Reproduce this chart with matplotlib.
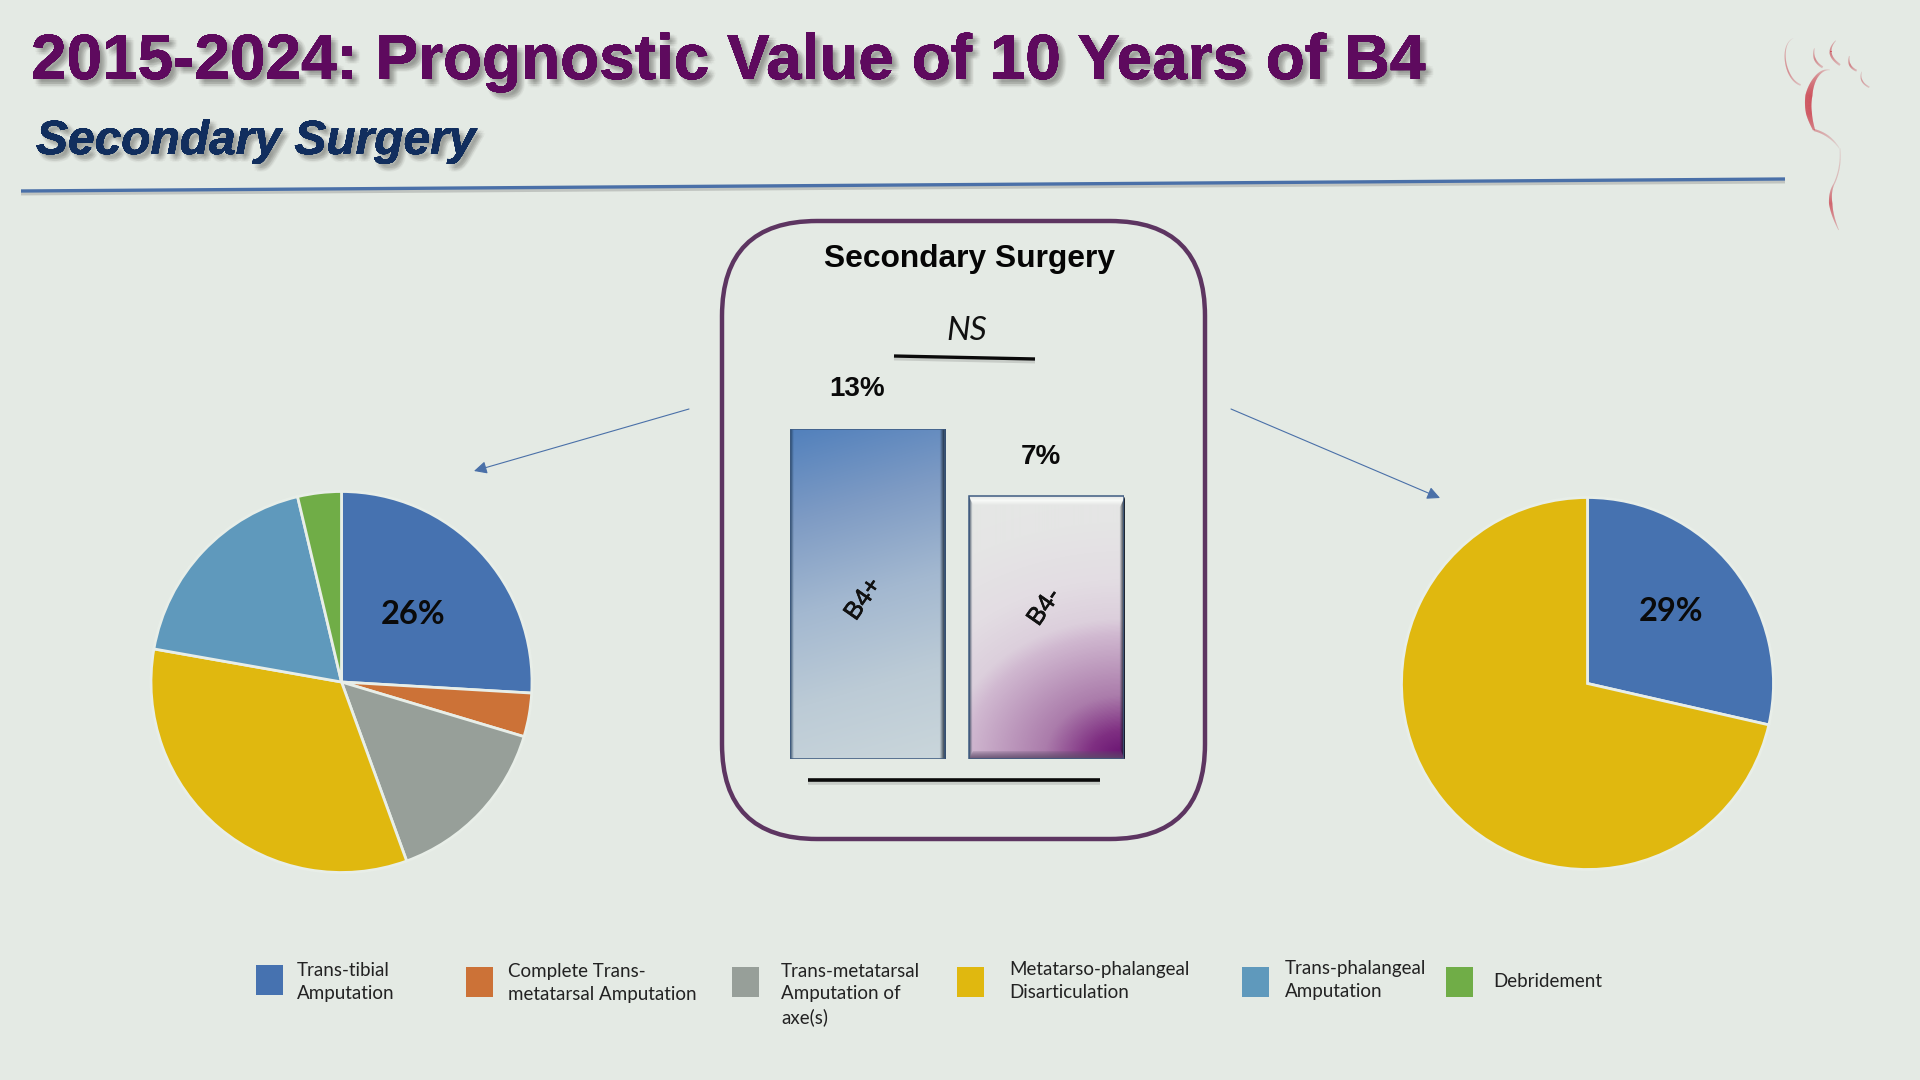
import numpy as np
import matplotlib
matplotlib.use("Agg")
import matplotlib.pyplot as plt
import matplotlib.patheffects as pe
from matplotlib.colors import LinearSegmentedColormap, to_rgb
from matplotlib.patches import FancyBboxPatch, Rectangle, FancyArrowPatch
from matplotlib.collections import LineCollection

# ---------- data ----------
title_text = "2015-2024: Prognostic Value of 10 Years of B4"
subtitle_text = "Secondary Surgery"
box_title = "Secondary Surgery"
ns_text = "NS"
categories = ["Trans-tibial\nAmputation",
              "Complete Trans-\nmetatarsal Amputation",
              "Trans-metatarsal\nAmputation of\naxe(s)",
              "Metatarso-phalangeal\nDisarticulation",
              "Trans-phalangeal\nAmputation",
              "Debridement"]
cat_colors = ["#4672B0", "#CC7237", "#979F99", "#E0B80F", "#5F99BC", "#70AD47"]
left_counts = [7, 1, 4, 9, 5, 1]
right_counts = [2, 0, 0, 5, 0, 0]
left_label = "26%"
right_label = "29%"
bar_names = ["B4+", "B4-"]
bar_values = [13, 7]
bar_value_labels = ["13%", "7%"]
bar_axis_floor = -16.5   # the reference bars stand on a truncated, non-zero-based scale

BG = "#E4EAE4"
W, H = 1920, 1080
fig = plt.figure(figsize=(19.2, 10.8), dpi=100, facecolor=BG)

def ax_px(x0, y0, x1, y1, **kw):
    return fig.add_axes([x0 / W, 1 - y1 / H, (x1 - x0) / W, (y1 - y0) / H], **kw)

# overlay in pixel coordinates
ov = fig.add_axes([0, 0, 1, 1], zorder=3)
ov.set_xlim(0, W); ov.set_ylim(H, 0); ov.axis("off"); ov.patch.set_alpha(0)

def shadow(dist=4.0, spread=3.5, col="#3A3A36", alpha=0.036):
    eff = []
    for rad, n in [(spread, 8), (spread * 0.6, 6), (0, 1)]:
        for a in np.linspace(0, 2 * np.pi, n, endpoint=False):
            ox = (dist + rad * np.cos(a)) * 0.72
            oy = -(dist + rad * np.sin(a)) * 0.72
            eff.append(pe.withSimplePatchShadow(offset=(ox, oy), shadow_rgbFace=col, alpha=alpha))
    eff.append(pe.Normal())
    return eff

# ---------- header ----------
ov.text(31, 79, title_text, fontsize=46, fontweight="bold", family="Liberation Sans",
        color="#5E0A5E", ha="left", va="baseline", path_effects=shadow(5))
ov.text(36, 154, subtitle_text, fontsize=34.5, fontweight="bold", style="italic",
        family="Liberation Sans", color="#112E5E", ha="left", va="baseline", path_effects=shadow(4.5))
ov.plot([21, 1785], [191, 179], color="#4A70A8", lw=2.4, solid_capstyle="butt",
        path_effects=[pe.SimpleLineShadow(offset=(0, -2), shadow_color="#555555", alpha=0.25), pe.Normal()])

# ---------- logo ----------
def taper(points, widths, alphas, color="#C92D3C", n=120):
    pts = np.array(points, float)
    t = np.linspace(0, 1, len(pts))
    tt = np.linspace(0, 1, n)
    deg = min(len(pts) - 1, 4)
    x = np.polyval(np.polyfit(t, pts[:, 0], deg), tt)
    y = np.polyval(np.polyfit(t, pts[:, 1], deg), tt)
    x = 1740 + x / 3; y = 20 + y / 3
    w = np.interp(tt, np.linspace(0, 1, len(widths)), widths)
    a = np.interp(tt, np.linspace(0, 1, len(alphas)), alphas)
    segs = [[(x[i], y[i]), (x[i + 1], y[i + 1])] for i in range(n - 1)]
    rgb = to_rgb(color)
    ov.add_collection(LineCollection(segs, linewidths=w[:-1], colors=[(*rgb, v) for v in a[:-1]],
                                     capstyle="butt"))

taper([(270, 150), (228, 172), (207, 225), (207, 280), (222, 330)], [0.4, 2.2, 5, 4.2, 1.5], [0.15, 0.6, 1, 1, 0.65])
taper([(222, 330), (265, 350), (298, 385)], [1.5, 1.4, 0.6], [0.5, 0.28, 0.08])
taper([(300, 385), (298, 440), (283, 490)], [0.7, 0.8, 0.8], [0.1, 0.22, 0.3])
taper([(283, 490), (272, 550), (296, 630)], [0.7, 2.4, 0.4], [0.3, 0.95, 0.25])
taper([(160, 55), (136, 95), (145, 155), (182, 195)], [0.3, 0.7, 1.1, 1.2], [0.06, 0.4, 0.55, 0.2])
taper([(223, 85), (225, 118), (248, 142)], [0.4, 1.3, 1.5], [0.3, 0.65, 0.25])
taper([(287, 62), (272, 100), (300, 135)], [0.4, 1.5, 1.5], [0.3, 0.75, 0.25])
taper([(328, 108), (330, 135), (350, 152)], [0.4, 1.3, 1.4], [0.3, 0.7, 0.25])
taper([(365, 155), (366, 182), (388, 202)], [0.3, 0.9, 1.1], [0.2, 0.5, 0.2])

# ---------- pies ----------
def draw_pie(counts, cx, cy, r, label, lx, ly):
    m = 3
    ax = ax_px(cx - r - m, cy - r - m, cx + r + m, cy + r + m, zorder=2)
    vals = [c for c in counts if c > 0]
    cols = [cat_colors[i] for i, c in enumerate(counts) if c > 0]
    ax.pie(vals, colors=cols, startangle=90, counterclock=False, radius=1,
           wedgeprops=dict(edgecolor="#E8EEE8", linewidth=2.0))
    lim = 1 + m / r
    ax.set_xlim(-lim, lim); ax.set_ylim(-lim, lim); ax.set_aspect("auto")
    ov.text(lx, ly, label, fontsize=23.5, fontweight="bold", family="Lato", color="#0A0A0A",
            ha="center", va="center", zorder=5)

draw_pie(left_counts, 341.5, 682, 190.5, left_label, 413, 615)
draw_pie(right_counts, 1587.5, 683.5, 186, right_label, 1671, 611.5)

# arrows
for (a, b) in [((689, 409), (474, 471)), ((1231, 409), (1440, 498))]:
    ov.add_patch(FancyArrowPatch(a, b, arrowstyle="-|>,head_length=0.55,head_width=0.27", mutation_scale=14,
                                 color="#4A70A8", lw=0.8, shrinkA=0, shrinkB=0))

# ---------- central panel ----------
rad = 95
ov.add_patch(FancyBboxPatch((722 + rad, 221 + rad), 483 - 2 * rad, 618 - 2 * rad,
                            boxstyle=f"round,pad={rad}", facecolor="none", edgecolor="#5D3561", lw=3.2))
ov.text(969, 258.5, box_title, fontsize=22.9, fontweight="bold", family="Liberation Sans",
        color="#050505", ha="center", va="center")
ov.text(967, 331, ns_text, fontsize=24, style="italic", family="Lato", color="#111111",
        ha="center", va="center")
ov.plot([894, 1035], [356, 359], color="#0A0A0A", lw=2.4, solid_capstyle="butt",
        path_effects=[pe.SimpleLineShadow(offset=(0, -2), shadow_color="#555555", alpha=0.2), pe.Normal()])
ov.plot([808, 1100], [780, 780], color="#0A0A0A", lw=2.6, solid_capstyle="butt",
        path_effects=[pe.SimpleLineShadow(offset=(0, -2), shadow_color="#555555", alpha=0.2), pe.Normal()])

bx = ax_px(790, 429, 1124, 759, zorder=2)
bx.patch.set_alpha(0); bx.axis("off")
x_pos = np.arange(len(bar_values))
bars = bx.bar(x_pos, [v - bar_axis_floor for v in bar_values], bottom=bar_axis_floor, width=0.867,
              facecolor="none", edgecolor="#3F5C82", linewidth=1.1, zorder=4)
blue_cm = LinearSegmentedColormap.from_list("b", ["#5180BC", "#7E9BC4", "#A3B8D0", "#BCCBD6", "#CAD6DB"])
pstops = [(0, "#661070"), (0.14, "#7F2F82"), (0.32, "#AB7CAB"), (0.63, "#D0B8D0"), (0.71, "#DCCFDC"),
          (0.91, "#E3DDE3"), (1.2, "#E5E5E5"), (1.6, "#E5E9E5")]
purple_cm = LinearSegmentedColormap.from_list("p", [(d / 1.6, c) for d, c in pstops])

def bevel(img, styles):
    h, w, _ = img.shape
    out = img.copy()
    yy, xx = np.mgrid[0:h, 0:w]
    left = xx; right = w - 1 - xx; top = yy; bottom = h - 1 - yy
    mn = np.minimum.reduce([left, right, top, bottom])
    top_m = top == mn
    left_m = (left == mn) & ~top_m
    right_m = (right == mn) & ~top_m
    bot_m = (bottom == mn) & ~left_m & ~right_m & ~top_m
    prof = [np.clip(1 - np.abs(mn - 4.0) / 4.5, 0, 1),
            np.clip(1 - mn / 7.0, 0, 1) ** 1.1,
            np.clip(1 - mn / 11.0, 0, 1) ** 0.9,
            np.clip(1 - mn / 8.0, 0, 1) ** 0.7]
    for mask, (col, amt), p in zip([top_m, left_m, right_m, bot_m], styles, prof):
        c = np.array(to_rgb(col))
        m = (mask * p * amt)[..., None]
        out = out * (1 - m) + c * m
    return np.clip(out, 0, 1)

bevel_styles = [
    [("#90B2E6", 0.9), ("#24405F", 0.9), ("#121E2C", 1.0), ("#6E7A78", 0.95)],
    [("#FAFCFA", 0.9), ("#2E3F55", 0.9), ("#141C28", 1.0), ("#5C4A68", 0.85)],
]
for i, bar in enumerate(bars):
    x0, y0 = bar.get_x(), bar.get_y()
    bw, bh = bar.get_width(), bar.get_height()
    disp = bx.transData.transform([(x0, y0), (x0 + bw, y0 + bh)])
    pw, ph = int(round(disp[1, 0] - disp[0, 0])), int(round(disp[1, 1] - disp[0, 1]))
    yy, xx = np.mgrid[0:ph, 0:pw]
    u = xx / (pw - 1); v = yy / (ph - 1)
    if i == 0:
        rgb = blue_cm(np.clip(v * 0.88 + u * 0.12, 0, 1))[..., :3]
    else:
        d = np.sqrt(((1 - u) / 1.6) ** 2 + ((1 - v) / 0.75) ** 2)
        rgb = purple_cm(np.clip(d / 1.6, 0, 1))[..., :3]
    bx.imshow(bevel(rgb, bevel_styles[i]), extent=[x0, x0 + bw, y0, y0 + bh], origin="upper", aspect="auto",
              interpolation="bilinear", zorder=3)

bx.set_xlim(-0.4335, 1.4335); bx.set_ylim(bar_axis_floor, 13)

for name, lab, (nx, ny), (lx, ly) in zip(bar_names, bar_value_labels,
                                         [(863, 599), (1044, 607)], [(857, 389.5), (1041, 457)]):
    ov.text(nx, ny, name, rotation=55, rotation_mode="anchor", fontsize=18, family="Liberation Sans",
            color="#111111", ha="center", va="center", zorder=6,
            path_effects=[pe.withStroke(linewidth=0.5, foreground="#111111")])
    ov.text(lx, ly, lab, fontsize=20, fontweight="bold", family="Liberation Sans", color="#0A0A0A",
            ha="center", va="center", zorder=6)

# ---------- legend ----------
sq_x = [256, 466, 732, 957, 1242, 1446]
sq_y = [965, 967, 967, 967, 967, 967]
txt_x = [297, 508, 781, 1009, 1285, 1493]
txt_y = [982, 983, 994.5, 981, 980, 981.5]
for col, label, sx, sy, tx, ty in zip(cat_colors, categories, sq_x, sq_y, txt_x, txt_y):
    ov.add_patch(Rectangle((sx, sy), 27, 30, facecolor=col, edgecolor="none"))
    ov.text(tx, ty, label, fontsize=13.5, family="Lato", color="#222222", ha="left", va="center",
            linespacing=1.41)

fig.savefig("out.png", dpi=100, facecolor=BG)
